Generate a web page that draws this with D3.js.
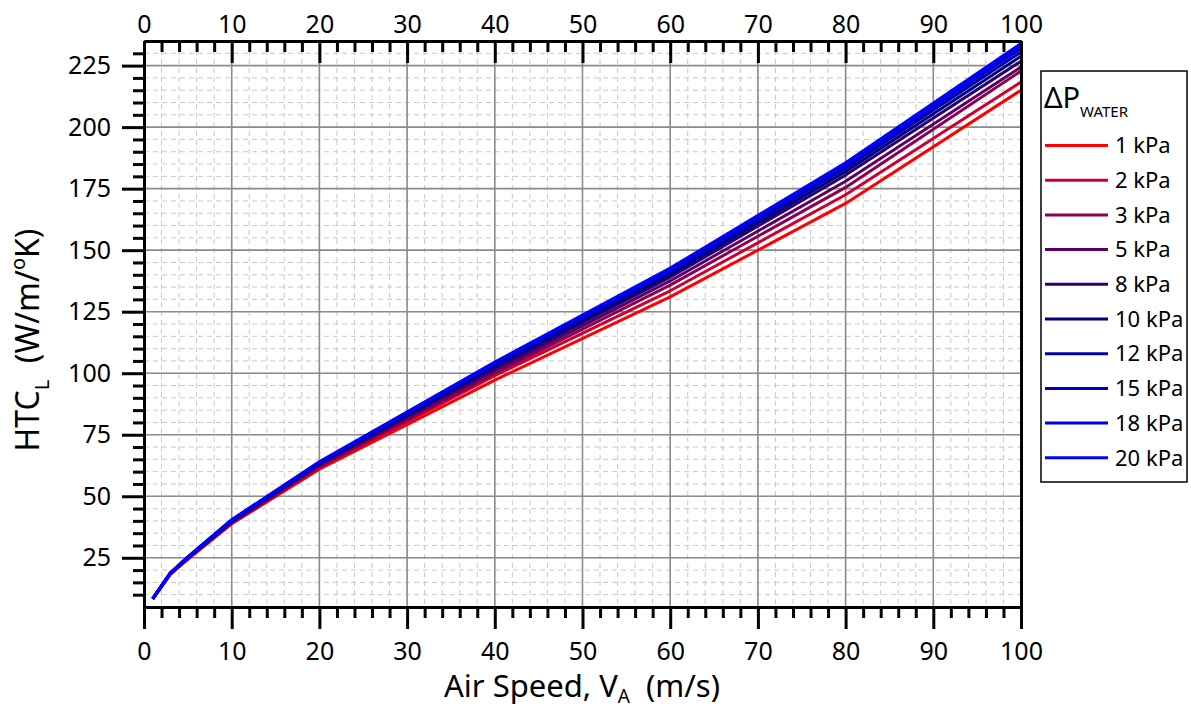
<!DOCTYPE html>
<html>
<head>
<meta charset="utf-8">
<script src="https://cdn.jsdelivr.net/npm/d3@7"></script>
<style>
  body { margin: 0; background: #fff; }
  text { font-family: "Noto Sans", "Open Sans", sans-serif; fill: #000; }
  .axis path, .axis line { stroke: #000; stroke-width: 3; }
  .axis text { font-size: 25px; }
</style>
</head>
<body>
<div class="chart"></div>
<script>
// air speed (m/s) where the curves were sampled
var airSpeed = [1, 3, 5, 10, 20, 40, 60, 80, 100];

// legend labels, one per water pressure drop
var pressureLabels = ["1 kPa", "2 kPa", "3 kPa", "5 kPa", "8 kPa", "10 kPa", "12 kPa", "15 kPa", "18 kPa", "20 kPa"];
var lineColors = ["#ff0000", "#cc0033", "#8c0050", "#5a0062", "#2c006e", "#000080", "#0000a6", "#0000c8", "#0000e6", "#0000ff"];

// HTC_L values (W/m/K)
var htc1 = [8.3, 18.3, 24.4, 38.8, 61.0, 97.2, 131.0, 169.0, 215.0];
var htc2 = [8.3, 18.4, 24.6, 39.0, 61.6, 99.0, 133.5, 172.5, 218.3];
var htc3 = [8.3, 18.5, 24.8, 39.2, 62.0, 100.0, 135.8, 175.5, 222.8];
var htc5 = [8.4, 18.6, 24.9, 39.4, 62.5, 101.0, 137.5, 178.0, 224.4];
var htc8 = [8.4, 18.7, 25.0, 39.7, 63.0, 102.0, 139.0, 180.5, 226.8];
var htc10 = [8.4, 18.7, 25.1, 39.9, 63.3, 102.8, 140.0, 182.0, 228.8];
var htc12 = [8.4, 18.8, 25.2, 40.1, 63.5, 103.3, 141.0, 183.3, 230.5];
var htc15 = [8.4, 18.8, 25.3, 40.3, 63.7, 103.8, 141.8, 184.3, 232.0];
var htc18 = [8.4, 18.9, 25.3, 40.4, 63.9, 104.2, 142.3, 185.0, 233.2];
var htc20 = [8.4, 18.9, 25.4, 40.5, 64.0, 104.5, 142.7, 185.5, 234.0];

var allSeries = [htc1, htc2, htc3, htc5, htc8, htc10, htc12, htc15, htc18, htc20];

// axis ticks
var xMajorTicks = [0, 10, 20, 30, 40, 50, 60, 70, 80, 90, 100];
var xMinorTicks = d3.range(2, 100, 2).filter(d => d % 10 != 0);
var yMajorTicks = [25, 50, 75, 100, 125, 150, 175, 200, 225];
var yMinorTicks = d3.range(10, 235, 5).filter(d => d % 25 != 0);

var svgWidth = 1191;
var svgHeight = 710;

var margin = { top: 41, right: 170, bottom: 103, left: 144 };
var chartWidth = svgWidth - margin.left - margin.right;
var chartHeight = svgHeight - margin.top - margin.bottom;

var svg = d3.select(".chart")
  .append("svg")
  .attr("width", svgWidth)
  .attr("height", svgHeight);

var chartGroup = svg.append("g")
  .attr("transform", `translate(${margin.left}, ${margin.top})`);

var xScale = d3.scaleLinear().domain([0, 100]).range([0, chartWidth]);
var yScale = d3.scaleLinear().domain([5, 235]).range([chartHeight, 0]);

// grid: dashed minor first, then solid major
var grid = chartGroup.append("g");
grid.selectAll(".vminor").data(xMinorTicks.concat(xMajorTicks)).enter().append("line")
  .attr("x1", d => xScale(d)).attr("x2", d => xScale(d))
  .attr("y1", 0).attr("y2", chartHeight)
  .attr("stroke", "#c8c8c8").attr("stroke-width", 1).attr("stroke-dasharray", "5,4");
grid.selectAll(".hminor").data(yMinorTicks.concat(yMajorTicks)).enter().append("line")
  .attr("x1", 0).attr("x2", chartWidth)
  .attr("y1", d => yScale(d)).attr("y2", d => yScale(d))
  .attr("stroke", "#c8c8c8").attr("stroke-width", 1).attr("stroke-dasharray", "5,4");
grid.selectAll(".vmajor").data(xMajorTicks).enter().append("line")
  .attr("x1", d => xScale(d)).attr("x2", d => xScale(d))
  .attr("y1", 0).attr("y2", chartHeight)
  .attr("stroke", "#8c8c8c").attr("stroke-width", 1.6);
grid.selectAll(".hmajor").data(yMajorTicks).enter().append("line")
  .attr("x1", 0).attr("x2", chartWidth)
  .attr("y1", d => yScale(d)).attr("y2", d => yScale(d))
  .attr("stroke", "#8c8c8c").attr("stroke-width", 1.6);

// lines
var line = d3.line()
  .x((d, i) => xScale(airSpeed[i]))
  .y(d => yScale(d));

chartGroup.append("g").selectAll("path")
  .data(allSeries)
  .enter()
  .append("path")
  .attr("d", d => line(d))
  .attr("fill", "none")
  .attr("stroke", (d, i) => lineColors[i])
  .attr("stroke-width", 3)
  .attr("stroke-linejoin", "round");

// axes
chartGroup.append("g").attr("class", "axis")
  .attr("transform", `translate(0, ${chartHeight})`)
  .call(d3.axisBottom(xScale).tickValues(xMinorTicks).tickSize(11).tickSizeOuter(0).tickFormat(""));
chartGroup.append("g").attr("class", "axis")
  .attr("transform", `translate(0, ${chartHeight})`)
  .call(d3.axisBottom(xScale).tickValues(xMajorTicks).tickSize(22).tickSizeOuter(0).tickPadding(13));

chartGroup.append("g").attr("class", "axis")
  .call(d3.axisTop(xScale).tickValues(xMinorTicks).tickSize(-11).tickSizeOuter(0).tickFormat(""));
chartGroup.append("g").attr("class", "axis")
  .call(d3.axisTop(xScale).tickValues(xMajorTicks).tickSize(-22).tickSizeOuter(0).tickPadding(8));

chartGroup.append("g").attr("class", "axis")
  .call(d3.axisLeft(yScale).tickValues(yMinorTicks).tickSize(11).tickSizeOuter(0).tickFormat(""));
chartGroup.append("g").attr("class", "axis")
  .call(d3.axisLeft(yScale).tickValues(yMajorTicks).tickSize(22).tickSizeOuter(0).tickPadding(11));

chartGroup.append("g").attr("class", "axis")
  .attr("transform", `translate(${chartWidth}, 0)`)
  .call(d3.axisRight(yScale).tickValues([]).tickSizeOuter(0));

// axis titles
var xTitle = svg.append("text")
  .attr("x", 582).attr("y", 697)
  .attr("text-anchor", "middle")
  .style("font-size", "31px");
xTitle.append("tspan").text("Air Speed, V");
xTitle.append("tspan").attr("dy", 6).style("font-size", "19px").text("A");
xTitle.append("tspan").attr("dy", -6).text("\u00a0 (m/s)");

var yTitle = svg.append("text")
  .attr("transform", "translate(39, 340) rotate(-90)")
  .attr("text-anchor", "middle")
  .style("font-size", "32px");
yTitle.append("tspan").text("HTC");
yTitle.append("tspan").attr("dy", 10).style("font-size", "20px").text("L");
yTitle.append("tspan").attr("dy", -10).text("\u00a0 (W/m/");
yTitle.append("tspan").attr("dy", -14).style("font-size", "20px").text("o");
yTitle.append("tspan").attr("dy", 14).text("K)");

// legend
var legend = svg.append("g").attr("transform", "translate(1041, 71)");
legend.append("rect")
  .attr("width", 146).attr("height", 411)
  .attr("fill", "#fff").attr("stroke", "#000").attr("stroke-width", 1.5);

var legendTitle = legend.append("text").attr("x", 3).attr("y", 37).style("font-size", "29px");
legendTitle.append("tspan").text("\u0394P");
legendTitle.append("tspan").attr("dy", 9).style("font-size", "15px").text("WATER");

var legendItems = legend.selectAll(".item")
  .data(pressureLabels)
  .enter()
  .append("g")
  .attr("transform", (d, i) => `translate(0, ${74.5 + i * 34.7})`);

legendItems.append("line")
  .attr("x1", 4).attr("x2", 67)
  .attr("stroke", (d, i) => lineColors[i])
  .attr("stroke-width", 3);

legendItems.append("text")
  .attr("x", 74).attr("dy", "0.35em")
  .style("font-size", "22px")
  .text(d => d);
</script>
</body>
</html>
